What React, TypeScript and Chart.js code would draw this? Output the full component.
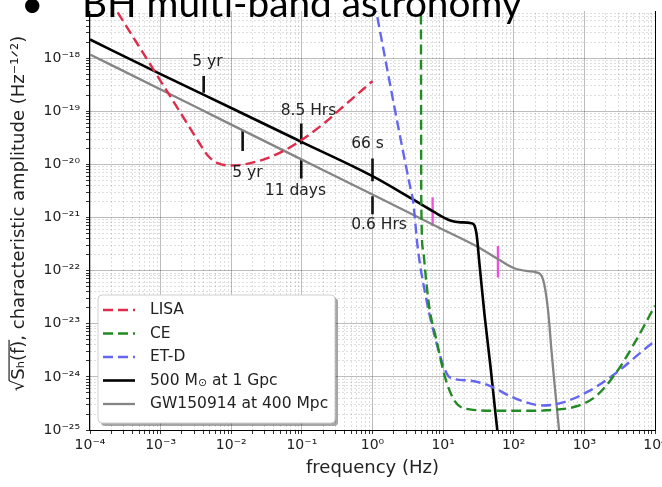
import React, { useEffect, useRef } from 'react';
import { Chart, registerables } from 'chart.js';

Chart.register(...registerables);

// ---------- axis ranges ----------
const X_EXP_MIN = -4;
const X_EXP_MAX = 4;
const Y_EXP_MIN = -25;
const Y_EXP_MAX = -17;

// ---------- LISA (red dashed) ----------
const lisaFreq = [1.9e-4, 3.98e-4, 1e-3, 2.0e-3, 3.55e-3, 4.68e-3, 6.3e-3, 1e-2, 2.51e-2, 6.0e-2, 0.1, 0.2, 0.427, 1];
const lisaAmp = [1.26e-17, 2.63e-18, 3.7e-19, 8.5e-20, 2.5e-20, 1.45e-20, 1.07e-20, 9.5e-21, 1.17e-20, 1.9e-20, 2.9e-20, 5.75e-20, 1.38e-19, 3.7e-19];

// ---------- CE (green dashed) ----------
const ceFreq = [4.85, 4.9, 5.18, 5.78, 6.44, 8.0, 10.5, 14.6, 23.8, 63, 158, 288, 776, 1480, 2820, 5500, 10000];
const ceAmp = [1.26e-17, 2.2e-21, 2.5e-22, 6.0e-23, 1.86e-23, 5.1e-24, 1.05e-24, 3.5e-25, 2.45e-25, 2.3e-25, 2.3e-25, 2.35e-25, 2.8e-25, 4.4e-25, 1.2e-24, 5.1e-24, 2.2e-23];

// ---------- ET-D (blue dashed) ----------
const etFreq = [1.07, 1.13, 3.55, 3.73, 4.4, 5.78, 8.0, 10.5, 12.4, 23.8, 45.6, 97.5, 259, 498, 1190, 2840, 8890, 10000];
const etAmp = [1.12e-17, 7.6e-18, 2.95e-21, 2.2e-21, 2.5e-22, 2.9e-23, 4.5e-24, 1.41e-24, 9.8e-25, 8.5e-25, 6.8e-25, 4.1e-25, 2.9e-25, 3.3e-25, 5.5e-25, 1.2e-24, 4.2e-24, 4.7e-24];

// ---------- 500 Msun at 1 Gpc (black) ----------
const bhFreq = [1e-4, 1e-3, 1e-2, 0.1, 1, 3.16, 7.1, 12.3, 17.8, 25.1, 29.5, 32.9, 38.7, 46.7, 55, 63];
const bhAmp = [2.24e-18, 5.0e-19, 1.15e-19, 2.63e-20, 6.0e-21, 2.5e-21, 1.32e-21, 8.9e-22, 8.1e-22, 7.8e-22, 5.2e-22, 1.23e-22, 1.41e-23, 1.62e-24, 2.1e-25, 4.0e-26];

// ---------- GW150914 at 400 Mpc (grey) ----------
const gwFreq = [1e-4, 1e-3, 1e-2, 0.1, 1, 10, 31.6, 63, 100, 158, 209, 259, 305, 341, 380, 423, 468];
const gwAmp = [1.17e-18, 2.57e-19, 5.6e-20, 1.23e-20, 2.7e-21, 5.9e-22, 2.75e-22, 1.58e-22, 1.12e-22, 9.8e-23, 9.3e-23, 6.9e-23, 1.86e-23, 3.3e-24, 6.8e-25, 1.62e-25, 4.0e-26];

// ---------- time-to-merger markers (black bars) ----------
const markFreq = [4.07e-3, 1.45e-2, 9.8e-2, 9.8e-2, 1.0, 1.0];
const markTop = [4.6e-19, 4.3e-20, 5.9e-20, 1.23e-20, 1.29e-20, 2.5e-21];
const markBottom = [2.24e-19, 1.78e-20, 2.4e-20, 5.4e-21, 4.8e-21, 1.15e-21];

// ---------- merger markers (magenta bars) ----------
const mergerFreq = [7.1, 59.7];
const mergerTop = [2.4e-21, 2.9e-22];
const mergerBottom = [6.9e-22, 7.4e-23];

// ---------- marker labels ----------
const noteText = ['5 yr', '5 yr', '8.5 Hrs', '11 days', '66 s', '0.6 Hrs'];
const noteFreq = [4.6e-3, 1.69e-2, 0.124, 8.1e-2, 0.85, 1.24];
const noteAmp = [8.5e-19, 6.8e-21, 1.0e-19, 3.2e-21, 2.4e-20, 7.1e-22];

const TITLE = 'BH multi-band astronomy';
const X_TITLE = 'frequency (Hz)';
const Y_TITLE_RAD = '\u221A';
const Y_TITLE_OVER = 'S\u2095(f)';
const Y_TITLE_REST = ', characteristic amplitude (Hz\u207B\u00B9\u141F\u00B2)';

const FONT = "'DejaVu Sans'";

const SUP: Record<string, string> = {
  '-': '\u207B', '0': '\u2070', '1': '\u00B9', '2': '\u00B2', '3': '\u00B3',
  '4': '\u2074', '5': '\u2075', '6': '\u2076', '7': '\u2077', '8': '\u2078', '9': '\u2079',
};
const isMajor = (v: number) => Math.abs(Math.log10(v) - Math.round(Math.log10(v))) < 1e-6;
const powLabel = (v: number) => '10' + String(Math.round(Math.log10(v))).split('').map((c) => SUP[c]).join('');
const logTicks = (lo: number, hi: number) => {
  const out: number[] = [];
  for (let e = lo; e < hi; e++) for (let m = 1; m <= 9; m++) out.push(parseFloat(`${m}e${e}`));
  out.push(parseFloat(`1e${hi}`));
  return out;
};

const pts = (f: number[], a: number[]) => f.map((x, i) => ({ x, y: a[i] }));

const curve = (label: string, f: number[], a: number[], color: string, width: number, dash: number[]) => ({
  label,
  data: pts(f, a),
  borderColor: color,
  borderWidth: width,
  borderDash: dash,
  pointRadius: 0,
  fill: false,
  cubicInterpolationMode: 'monotone',
  inLegend: true,
});

const bar = (f: number, top: number, bottom: number, color: string, width: number) => ({
  label: '',
  data: [{ x: f, y: top }, { x: f, y: bottom }],
  borderColor: color,
  borderWidth: width,
  pointRadius: 0,
  fill: false,
  tension: 0,
  inLegend: false,
});

const gridColor = (c: any) => (c.tick && isMajor(c.tick.value) ? 'rgba(0,0,0,0.26)' : 'rgba(0,0,0,0.13)');
const gridDash = (c: any) => (c.tick && !isMajor(c.tick.value) ? [2, 2] : []);

const drawLegendText = (ctx: CanvasRenderingContext2D, text: string, x: number, y: number, size: number) => {
  const parts = text.split('\u2299');
  let cx = x;
  parts.forEach((p, i) => {
    ctx.font = `${size}px ${FONT}`;
    ctx.fillText(p, cx, y);
    cx += ctx.measureText(p).width;
    if (i < parts.length - 1) {
      ctx.font = `${size * 0.7}px ${FONT}`;
      ctx.fillText('\u2299', cx, y + 3);
      cx += ctx.measureText('\u2299').width;
    }
  });
};

const decorPlugin = {
  id: 'decor',
  afterDatasetsDraw(chart: any) {
    const { ctx, chartArea: ca, scales } = chart;
    const xs = scales.x;
    const ys = scales.y;
    ctx.save();
    // spines
    ctx.strokeStyle = '#000';
    ctx.lineWidth = 1;
    ctx.setLineDash([]);
    ctx.strokeRect(Math.round(ca.left) - 0.5, Math.round(ca.top) + 0.5, Math.round(ca.right - ca.left) + 1, Math.round(ca.bottom - ca.top));

    // marker labels
    ctx.fillStyle = '#222';
    ctx.font = `15.5px ${FONT}`;
    ctx.textAlign = 'center';
    ctx.textBaseline = 'middle';
    noteText.forEach((t, i) => {
      ctx.fillText(t, xs.getPixelForValue(noteFreq[i]), ys.getPixelForValue(noteAmp[i]));
    });

    // legend box
    const items = chart.data.datasets.filter((d: any) => d.inLegend);
    const w = 237;
    const h = 128;
    const x0 = ca.left + 8;
    const y0 = ca.bottom - 7 - h;
    const rr = (x: number, y: number) => {
      ctx.beginPath();
      if ((ctx as any).roundRect) (ctx as any).roundRect(x, y, w, h, 4);
      else ctx.rect(x, y, w, h);
    };
    rr(x0 + 3, y0 + 3);
    ctx.fillStyle = 'rgba(0,0,0,0.35)';
    ctx.fill();
    rr(x0, y0);
    ctx.fillStyle = '#ffffff';
    ctx.fill();
    ctx.strokeStyle = '#cfcfcf';
    ctx.lineWidth = 1;
    ctx.stroke();
    ctx.textAlign = 'left';
    ctx.textBaseline = 'middle';
    items.forEach((d: any, i: number) => {
      const cy = y0 + 15 + i * 23.5;
      ctx.strokeStyle = d.borderColor;
      ctx.lineWidth = d.borderWidth;
      ctx.setLineDash(d.borderDash || []);
      ctx.beginPath();
      ctx.moveTo(x0 + 5, cy);
      ctx.lineTo(x0 + 37, cy);
      ctx.stroke();
      ctx.setLineDash([]);
      ctx.fillStyle = '#222';
      drawLegendText(ctx, d.label, x0 + 52, cy, 15.5);
    });
    ctx.restore();
  },
  afterDraw(chart: any) {
    const { ctx, chartArea: ca } = chart;
    ctx.save();
    // y axis title with radical overline
    const size = 18;
    ctx.font = `${size}px ${FONT}`;
    ctx.fillStyle = '#222';
    ctx.textBaseline = 'alphabetic';
    ctx.textAlign = 'left';
    const wRad = ctx.measureText(Y_TITLE_RAD).width;
    const wOver = ctx.measureText(Y_TITLE_OVER).width;
    const wRest = ctx.measureText(Y_TITLE_REST).width;
    const total = wRad + wOver + wRest;
    ctx.translate(24, (ca.top + ca.bottom) / 2 - 4);
    ctx.rotate(-Math.PI / 2);
    let x = -total / 2;
    ctx.fillText(Y_TITLE_RAD, x, 0);
    x += wRad;
    ctx.fillText(Y_TITLE_OVER, x, 0);
    ctx.strokeStyle = '#222';
    ctx.lineWidth = 1.2;
    ctx.beginPath();
    ctx.moveTo(x - 1, -size * 0.83);
    ctx.lineTo(x + wOver + 1, -size * 0.83);
    ctx.stroke();
    x += wOver;
    ctx.fillText(Y_TITLE_REST, x, 0);
    ctx.restore();

    // slide title overlay
    ctx.save();
    ctx.fillStyle = '#ffffff';
    ctx.fillRect(0, 0, chart.width, 11);
    let ts = 40;
    ctx.font = `${ts}px Lato`;
    ts = (ts * 440) / ctx.measureText(TITLE).width;
    ctx.font = `${ts}px Lato`;
    ctx.fillStyle = '#000';
    ctx.textBaseline = 'alphabetic';
    ctx.textAlign = 'left';
    ctx.fillText(TITLE, 82, 17);
    ctx.fillText('\u2022', 21, 17);
    ctx.restore();
  },
};

export default function App() {
  const ref = useRef<HTMLCanvasElement | null>(null);
  useEffect(() => {
    document.body.style.margin = '0';
    const canvas = ref.current;
    if (!canvas) return;
    const datasets: any[] = [
      curve('LISA', lisaFreq, lisaAmp, '#de2d4c', 2.4, [10, 5]),
      curve('CE', ceFreq, ceAmp, '#238b23', 2.4, [10, 5]),
      curve('ET-D', etFreq, etAmp, '#6466f0', 2.4, [10, 5]),
      curve('500 M\u2299 at 1 Gpc', bhFreq, bhAmp, '#000000', 2.6, []),
      curve('GW150914 at 400 Mpc', gwFreq, gwAmp, '#858585', 2.3, []),
    ];
    markFreq.forEach((f, i) => datasets.push(bar(f, markTop[i], markBottom[i], '#111111', 2.6)));
    mergerFreq.forEach((f, i) => datasets.push(bar(f, mergerTop[i], mergerBottom[i], '#ee4fdc', 2.3)));

    const chart = new Chart(canvas, {
      type: 'line',
      data: { datasets },
      options: {
        responsive: false,
        animation: false,
        events: [],
        layout: { padding: { top: 5, right: 7, bottom: 0, left: 0 } },
        plugins: { legend: { display: false }, tooltip: { enabled: false } },
        scales: {
          x: {
            type: 'logarithmic',
            min: Math.pow(10, X_EXP_MIN),
            max: Math.pow(10, X_EXP_MAX),
            afterBuildTicks: (s: any) => {
              s.ticks = logTicks(X_EXP_MIN, X_EXP_MAX).map((v) => ({ value: v, major: isMajor(v) }));
            },
            afterFit: (s: any) => {
              s.height = 57;
              s.paddingLeft = 0;
              s.paddingRight = 0;
            },
            ticks: {
              autoSkip: false,
              maxRotation: 0,
              padding: 3,
              color: '#222',
              font: { family: FONT, size: 14 },
              callback: (v: any) => (isMajor(Number(v)) ? powLabel(Number(v)) : ''),
            },
            grid: { color: gridColor, lineWidth: 1, tickColor: '#333', tickLength: 4, drawTicks: true },
            border: { display: false, dash: gridDash },
            title: {
              display: true,
              text: X_TITLE,
              color: '#222',
              font: { family: FONT, size: 18 },
              padding: { top: 0, bottom: 8 },
            },
          },
          y: {
            type: 'logarithmic',
            min: Math.pow(10, Y_EXP_MIN),
            max: Math.pow(10, Y_EXP_MAX),
            afterBuildTicks: (s: any) => {
              s.ticks = logTicks(Y_EXP_MIN, Y_EXP_MAX).map((v) => ({ value: v, major: isMajor(v) }));
            },
            afterFit: (s: any) => {
              s.width = 90;
              s.paddingTop = 0;
              s.paddingBottom = 0;
            },
            ticks: {
              autoSkip: false,
              padding: 6,
              color: '#222',
              font: { family: FONT, size: 14 },
              callback: (v: any) => (isMajor(Number(v)) ? powLabel(Number(v)) : ''),
            },
            grid: { color: gridColor, lineWidth: 1, tickColor: '#333', tickLength: 4, drawTicks: true },
            border: { display: false, dash: gridDash },
          },
        },
      } as any,
      plugins: [decorPlugin as any],
    });
    return () => chart.destroy();
  }, []);
  return <canvas ref={ref} width={662} height={487} style={{ display: 'block' }} />;
}
